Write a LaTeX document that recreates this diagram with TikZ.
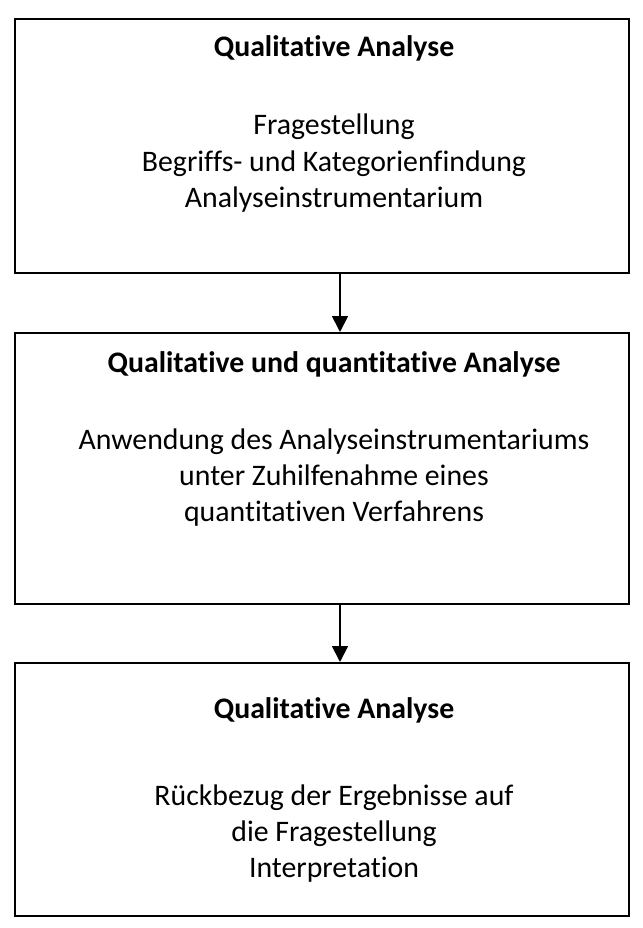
\documentclass[tikz,border=0pt]{standalone}
\usepackage{fontspec}
\setmainfont{Carlito}[Ligatures={NoCommon,NoContextual},RawFeature={-liga;-clig}]
\usetikzlibrary{arrows.meta}
\begin{document}
\begin{tikzpicture}[x=1pt,y=-1pt,
  stage/.style={draw=black,line width=2.4pt,minimum width=614pt,inner sep=0pt,anchor=north west},
  head/.style={anchor=base,font=\fontsize{29.8}{36.4}\selectfont\bfseries,inner sep=0pt},
  body/.style={anchor=base,font=\fontsize{29.8}{36.4}\selectfont,inner sep=0pt},
  flow/.style={line width=1.8pt,-{Triangle[width=16pt,length=16pt]}}]
  \path[fill=white] (0,0) rectangle (642,928);
  \useasboundingbox (0,0) rectangle (642,928);

  % three stage boxes
  \node[stage,minimum height=254pt] (s1) at (14,18) {};
  \node[stage,minimum height=271pt] (s2) at (14,332) {};
  \node[stage,minimum height=253pt] (s3) at (14,662) {};

  % stage 1
  \node[head] (h1) at (334,57) {Qualitative Analyse};
  \node[body] (t11) at (334,135) {Fragestellung};
  \node[body] (t12) at (334,171.4) {Begriffs- und Kategorienfindung};
  \node[body] (t13) at (334,207.8) {Analyseinstrumentarium};

  % stage 2
  \node[head] (h2) at (334,372) {Qualitative und quantitative Analyse};
  \node[body] (t21) at (334,449) {Anwendung des Analyseinstrumentariums};
  \node[body] (t22) at (334,485.4) {unter Zuhilfenahme eines};
  \node[body] (t23) at (334,521.8) {quantitativen Verfahrens};

  % stage 3
  \node[head] (h3) at (334,718) {Qualitative Analyse};
  \node[body] (t31) at (334,805) {Rückbezug der Ergebnisse auf};
  \node[body] (t32) at (334,841.4) {die Fragestellung};
  \node[body] (t33) at (334,877.8) {Interpretation};

  % connectors
  \coordinate (axis) at (340,0);
  \draw[flow] (s1.south -| axis) -- (s2.north -| axis);
  \draw[flow] (s2.south -| axis) -- (s3.north -| axis);
\end{tikzpicture}
\end{document}
